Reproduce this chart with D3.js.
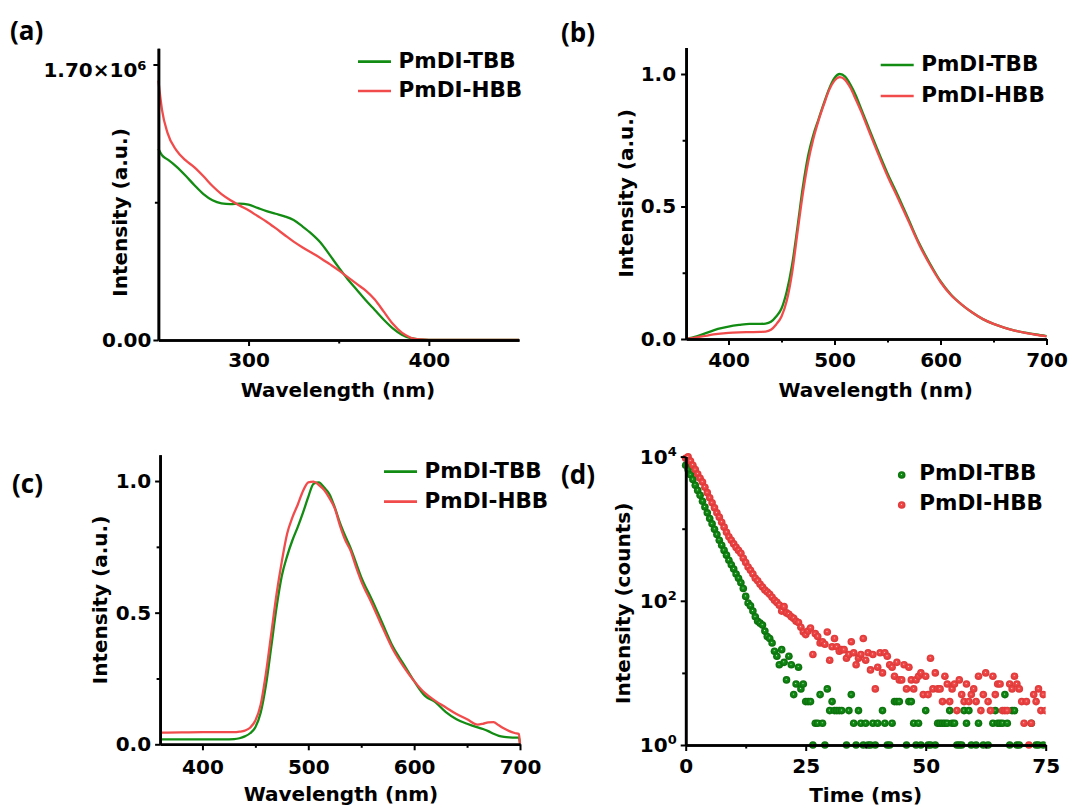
<!DOCTYPE html>
<html>
<head>
<meta charset="utf-8">
<style>
  body { margin: 0; background: #fff; }
  svg text { font-family: "DejaVu Sans", sans-serif; font-weight: bold; fill: #000; }
  .axis text { font-size: 20px; }
  .axis .domain { stroke: #000; stroke-width: 2.6; }
  .axis .tick line { stroke: #000; stroke-width: 2; }
  .title { font-size: 20px; }
  .legend { font-size: 21.5px; }
  .plabel { font-family: "Open Sans", sans-serif !important; font-weight: 700; font-size: 26px; }
</style>
</head>
<body>
<svg width="1068" height="809"></svg>
<script src="https://d3js.org/d3.v7.min.js"></script>
<script>
// (a) absorption, intensity in units of 1e6
var absWavelength = [250, 252, 255, 260, 265, 270, 275, 280, 285, 290, 295, 300, 305, 310, 315, 320, 325, 330, 335, 340,
    345, 350, 355, 360, 365, 370, 375, 380, 385, 390, 395, 400, 410, 420, 430, 440, 450];
var absTBB = [1.18, 1.14, 1.115, 1.07, 1.015, 0.955, 0.9, 0.862, 0.843, 0.838, 0.842, 0.835, 0.815, 0.795, 0.779, 0.763, 0.74, 0.70, 0.655, 0.60,
    0.525, 0.448, 0.375, 0.31, 0.245, 0.185, 0.125, 0.072, 0.033, 0.011, 0.003, 0, 0, 0, 0, 0, 0];
var absHBB = [1.60, 1.42, 1.28, 1.17, 1.11, 1.065, 1.01, 0.95, 0.9, 0.862, 0.83, 0.80, 0.765, 0.73, 0.69, 0.648, 0.607, 0.571, 0.538, 0.505,
    0.468, 0.43, 0.388, 0.346, 0.305, 0.25, 0.175, 0.10, 0.045, 0.014, 0.003, 0, 0, 0, 0, 0, 0];

// (b) solution emission
var plWavelength = [360, 370, 380, 390, 400, 410, 420, 430, 435, 440, 445, 450, 455, 460, 465, 470, 475, 480, 485, 490, 495, 500, 505,
    510, 515, 520, 525, 530, 540, 550, 560, 570, 580, 590, 600, 610, 620, 630, 640, 650, 660, 670, 680, 690, 700];
var plTBB = [0, 0.01, 0.024, 0.038, 0.047, 0.053, 0.057, 0.057, 0.058, 0.065, 0.085, 0.115, 0.18, 0.28, 0.42, 0.57, 0.69, 0.77, 0.83, 0.89, 0.945, 0.985, 1.0,
    0.99, 0.96, 0.92, 0.87, 0.82, 0.72, 0.625, 0.54, 0.45, 0.36, 0.285, 0.218, 0.167, 0.13, 0.10, 0.075, 0.057, 0.043, 0.032, 0.024, 0.017, 0.011];
var plHBB = [0, 0.006, 0.013, 0.019, 0.023, 0.025, 0.026, 0.027, 0.028, 0.035, 0.055, 0.085, 0.145, 0.25, 0.40, 0.545, 0.665, 0.755, 0.825, 0.885, 0.94, 0.975, 0.988,
    0.978, 0.948, 0.905, 0.86, 0.81, 0.71, 0.615, 0.53, 0.443, 0.355, 0.28, 0.215, 0.165, 0.13, 0.10, 0.075, 0.057, 0.043, 0.032, 0.023, 0.016, 0.01];

// (c) film emission
var filmWavelength = [360, 380, 400, 420, 430, 435, 440, 445, 450, 455, 460, 465, 470, 475, 480, 485, 490, 495, 500, 505, 510, 515, 520, 525,
    530, 535, 540, 545, 550, 560, 570, 580, 590, 600, 610, 620, 630, 640, 650, 660, 665, 670, 675, 680, 685, 690, 695, 699, 700];
var filmTBB = [0.019, 0.019, 0.019, 0.019, 0.02, 0.023, 0.03, 0.042, 0.065, 0.12, 0.225, 0.37, 0.52, 0.64, 0.715, 0.775, 0.825, 0.88, 0.94, 0.99, 0.995, 0.975, 0.95, 0.9,
    0.84, 0.79, 0.745, 0.69, 0.635, 0.55, 0.46, 0.37, 0.305, 0.24, 0.185, 0.16, 0.122, 0.095, 0.078, 0.064, 0.058, 0.05, 0.04, 0.032, 0.028, 0.026, 0.025, 0.025, 0.004];
var filmHBB = [0.044, 0.045, 0.046, 0.046, 0.046, 0.048, 0.052, 0.063, 0.09, 0.15, 0.27, 0.42, 0.57, 0.695, 0.80, 0.862, 0.91, 0.962, 0.995, 0.998, 0.985, 0.966, 0.935, 0.896,
    0.83, 0.775, 0.735, 0.675, 0.62, 0.535, 0.445, 0.36, 0.295, 0.24, 0.195, 0.165, 0.14, 0.115, 0.095, 0.075, 0.078, 0.083, 0.084, 0.072, 0.06, 0.05, 0.043, 0.039, 0];

// (d) decay, counts per 0.5 ms channel (0 = empty channel)
var decayStep = 0.5;
var decayTBB = [7600, 6600, 5600, 4800, 4000, 3400, 2900, 2400, 2000, 1660,
    1380, 1170, 980, 830, 690, 590, 500, 430, 365, 315,
    275, 235, 205, 178, 148, 115, 93, 85, 72, 60,
    52, 49, 46, 38, 32, 30, 26, 20, 17, 13,
    21, 14, 8, 17, 13, 5, 7, 12, 6, 7,
    4, 4, 4, 1, 2, 2, 5, 2, 1, 6,
    3, 4, 3, 3, 3, 3, 0, 1, 3, 5,
    2, 1, 3, 2, 1, 2, 1, 1, 2, 1,
    2, 0, 3, 2, 1, 1, 2, 4, 4, 4,
    0, 0, 1, 4, 4, 2, 1, 2, 1, 0,
    3, 1, 1, 0, 1, 2, 2, 2, 2, 2,
    3, 2, 2, 1, 1, 1, 3, 2, 3, 1,
    0, 1, 2, 0, 1, 0, 1, 0, 2, 3,
    2, 2, 2, 5, 2, 1, 3, 3, 1, 1,
    0, 0, 0, 0, 2, 0, 1, 1, 0, 1, 0];
var decayHBB = [9500, 9900, 8700, 7600, 6600, 5750, 5000, 4450, 3760, 3160,
    2690, 2290, 1950, 1660, 1445, 1230, 1050, 890, 775, 690,
    615, 550, 500, 455, 390, 340, 295, 265, 235, 205,
    190, 170, 155, 141, 132, 123, 112, 102, 95, 87,
    72, 83, 68, 65, 60, 57, 52, 50, 43, 37,
    34, 38, 42, 18, 35, 32, 26, 27, 25, 37,
    15, 23, 30, 23, 20, 21, 21, 16, 18, 27,
    19, 13, 16, 18, 30, 15, 19, 11, 18, 6,
    12, 19, 10, 19, 17, 13, 12, 9, 14, 8,
    8, 13, 6, 12, 8, 6, 8, 9, 10, 5,
    9, 5, 16, 6, 10, 6, 6, 4, 9, 7,
    4, 6, 7, 3, 8, 5, 4, 7, 4, 5,
    6, 4, 9, 3, 5, 10, 4, 3, 9, 5,
    7, 7, 3, 3, 3, 7, 6, 9, 7, 6,
    4, 2, 4, 1, 2, 5, 4, 6, 3, 5, 3];

var seriesNames = ["PmDI-TBB", "PmDI-HBB"];
var green = "#128c12", red = "#f14b4b";

var svg = d3.select("svg");
var defs = svg.append("defs");

function drawAxes(g, x, y, o) {
    var y0 = y.range()[0], x0 = x.range()[0];
    g.append("g").attr("class", "axis").attr("transform", "translate(0," + y0 + ")")
        .call(d3.axisBottom(x).tickValues(o.xMinor).tickSize(3.5).tickSizeOuter(0).tickFormat(""));
    g.append("g").attr("class", "axis").attr("transform", "translate(0," + y0 + ")")
        .call(d3.axisBottom(x).tickValues(o.xTicks).tickSize(6).tickSizeOuter(0).tickPadding(o.xPad).tickFormat(o.xFormat));
    g.append("g").attr("class", "axis").attr("transform", "translate(" + x0 + ",0)")
        .call(d3.axisLeft(y).tickValues(o.yMinor).tickSize(3.5).tickSizeOuter(0).tickFormat(""));
    var yl = g.append("g").attr("class", "axis").attr("transform", "translate(" + x0 + ",0)")
        .call(d3.axisLeft(y).tickValues(o.yTicks).tickSize(5).tickSizeOuter(0).tickPadding(o.yPad).tickFormat(o.yFormat));
    g.selectAll(".axis").attr("font-size", null).attr("font-family", null);
    return yl;
}

function titles(g, xt, xx, xy, yt, yx, yy) {
    g.append("text").attr("class", "title").attr("x", xx).attr("y", xy).attr("text-anchor", "middle").text(xt);
    g.append("text").attr("class", "title").attr("text-anchor", "middle")
        .attr("transform", "translate(" + yx + "," + yy + ") rotate(-90)").text(yt);
}

function lineLegend(g, x0, ys) {
    [green, red].forEach(function(c, i) {
        g.append("line").attr("x1", x0).attr("x2", x0 + 33).attr("y1", ys[i]).attr("y2", ys[i])
            .attr("stroke", c).attr("stroke-width", 2.7);
        g.append("text").attr("class", "legend").attr("x", x0 + 40.5).attr("y", ys[i] + 6).text(seriesNames[i]);
    });
}

function curves(g, x, y, xs, sets) {
    var line = d3.line().x(function(d, i) { return x(xs[i]); }).y(function(d) { return y(d); }).curve(d3.curveMonotoneX);
    sets.forEach(function(s) {
        g.append("path").attr("d", line(s[0])).attr("fill", "none").attr("stroke", s[1])
            .attr("stroke-width", 2.3).attr("stroke-linejoin", "round");
    });
}

function plabel(x, y, t) {
    svg.append("text").attr("class", "plabel").attr("x", x).attr("y", y).text(t);
}

// ---------- (a)
var xa = d3.scaleLinear().domain([250, 450]).range([158.4, 519]);
var ya = d3.scaleLinear().domain([0, 1.8]).range([340, 48.3]);
var ga = svg.append("g");
curves(ga, xa, ya, absWavelength, [[absTBB, green], [absHBB, red]]);
var yla = drawAxes(ga, xa, ya, {
    xTicks: [300, 400], xMinor: [350], xPad: 7, xFormat: d3.format("d"),
    yTicks: [0, 1.7], yMinor: [0.85], yPad: 2, yFormat: d3.format(".2f")
});
yla.selectAll(".tick text").filter(function(d) { return d > 0; }).each(function() {
    var t = d3.select(this).text("1.70\u00d710").attr("dx", -5).attr("dy", "0.62em");
    t.append("tspan").attr("dy", "-0.6em").style("font-size", "13px").text("6");
});
titles(ga, "Wavelength (nm)", 338, 397, "Intensity (a.u.)", 126.7, 212.5);
lineLegend(ga, 358, [61.7, 91]);
plabel(10, 40, "(a)");

// ---------- (b)
var xb = d3.scaleLinear().domain([360, 700]).range([686.1, 1046.5]);
var yb = d3.scaleLinear().domain([0, 1.1]).range([339, 47.5]);
var gb = svg.append("g");
curves(gb, xb, yb, plWavelength, [[plTBB, green], [plHBB, red]]);
drawAxes(gb, xb, yb, {
    xTicks: [400, 500, 600, 700], xMinor: [450, 550, 650], xPad: 8, xFormat: d3.format("d"),
    yTicks: [0, 0.5, 1.0], yMinor: [0.25, 0.75], yPad: 5, yFormat: d3.format(".1f")
});
titles(gb, "Wavelength (nm)", 875.7, 397, "Intensity (a.u.)", 633, 193.3);
lineLegend(gb, 880.7, [65, 96]);
plabel(561, 42, "(b)");

// ---------- (c)
var xc = d3.scaleLinear().domain([360, 700]).range([160.1, 520]);
var yc = d3.scaleLinear().domain([0, 1.1]).range([744.3, 454.7]);
var gc = svg.append("g");
curves(gc, xc, yc, filmWavelength, [[filmTBB, green], [filmHBB, red]]);
drawAxes(gc, xc, yc, {
    xTicks: [400, 500, 600, 700], xMinor: [450, 550, 650], xPad: 10, xFormat: d3.format("d"),
    yTicks: [0, 0.5, 1.0], yMinor: [0.25, 0.75], yPad: 4, yFormat: d3.format(".1f")
});
titles(gc, "Wavelength (nm)", 341, 801, "Intensity (a.u.)", 107.4, 600);
lineLegend(gc, 384, [471.7, 501.7]);
plabel(12, 493, "(c)");

// ---------- (d)
function sphere(id, light, base, dark) {
    var gr = defs.append("radialGradient").attr("id", id)
        .attr("cx", "50%").attr("cy", "50%").attr("r", "50%").attr("fx", "45%").attr("fy", "42%");
    gr.append("stop").attr("offset", "0%").attr("stop-color", light);
    gr.append("stop").attr("offset", "22%").attr("stop-color", base);
    gr.append("stop").attr("offset", "100%").attr("stop-color", dark);
}
sphere("ballGreen", "#d8f4d8", "#149018", "#0a6c0a");
sphere("ballRed", "#ffe0e0", "#f34a4a", "#dc3636");

var xd = d3.scaleLinear().domain([0, 75]).range([685.7, 1045.7]);
var yd = d3.scaleLog().domain([1, 10000]).range([745, 456.6]);
var gd = svg.append("g");
defs.append("clipPath").attr("id", "clipD").append("rect")
    .attr("x", 600).attr("y", 0).attr("width", xd(75) - 600).attr("height", 809);

function decayPoints(counts) {
    return counts.map(function(c, i) { return { t: i * decayStep, c: c }; })
        .filter(function(d) { return d.c > 0; });
}
var dots = gd.append("g").attr("clip-path", "url(#clipD)");
[[decayTBB, "ballGreen"], [decayHBB, "ballRed"]].forEach(function(s) {
    dots.append("g").selectAll("circle").data(decayPoints(s[0])).enter().append("circle")
        .attr("cx", function(d) { return xd(d.t); })
        .attr("cy", function(d) { return yd(d.c); })
        .attr("r", 3.8)
        .attr("fill", "url(#" + s[1] + ")");
});

var yld = drawAxes(gd, xd, yd, {
    xTicks: [0, 25, 50, 75], xMinor: [12.5, 37.5, 62.5], xPad: 8, xFormat: d3.format("d"),
    yTicks: [1, 100, 10000], yMinor: [10, 1000], yPad: 4, yFormat: function() { return ""; }
});
yld.selectAll(".tick text").each(function(d) {
    var t = d3.select(this).text("10");
    t.append("tspan").attr("dy", "-0.6em").style("font-size", "13px").text(Math.round(Math.log10(d)));
});
titles(gd, "Time (ms)", 865.6, 802, "Intensity (counts)", 629.5, 603.3);
["ballGreen", "ballRed"].forEach(function(id, i) {
    var yy = [475, 505][i];
    gd.append("circle").attr("cx", 901.7).attr("cy", yy).attr("r", 3.8).attr("fill", "url(#" + id + ")");
    gd.append("text").attr("class", "legend").attr("x", 919.3).attr("y", yy + 5).text(seriesNames[i]);
});
plabel(561, 484, "(d)");
</script>
</body>
</html>
